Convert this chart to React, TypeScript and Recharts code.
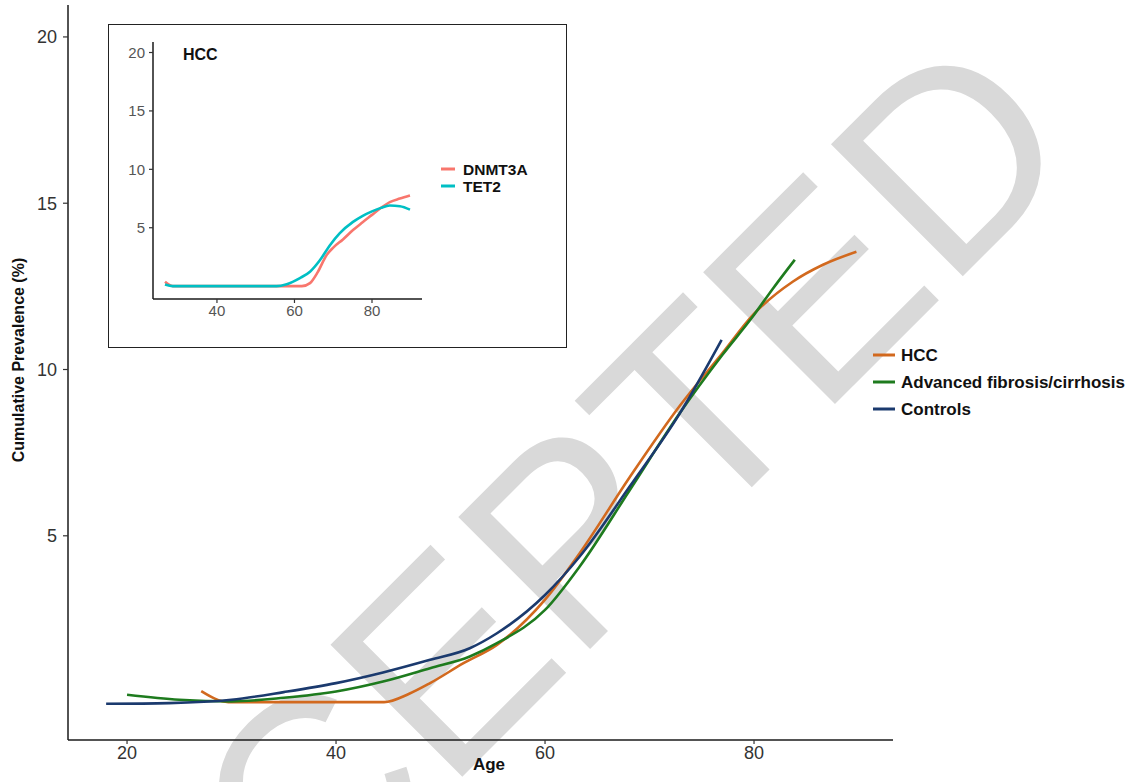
import React from 'react';
import { LineChart, Line, XAxis, YAxis } from 'recharts';

// ---------- main chart data ----------
const mainTicksX = [20, 40, 60, 80];
const mainTicksY = [5, 10, 15, 20];

const hccAge = [27.1, 29.7, 44.6, 47, 49, 52.2, 55.4, 60, 63.3, 68.1, 72.9, 77, 79.9, 83.7, 86.6, 89.8];
const hccVal = [0.33, 0, 0, 0.25, 0.57, 1.17, 1.72, 3.08, 4.47, 6.76, 8.91, 10.5, 11.64, 12.64, 13.15, 13.54];

const fibAge = [20, 25, 30, 35, 40, 44.5, 49, 52.8, 55.4, 60, 63.3, 68.1, 72.9, 77, 79.9, 81.8, 83.9];
const fibVal = [0.22, 0.07, 0.02, 0.13, 0.32, 0.62, 1.02, 1.37, 1.77, 2.77, 4.07, 6.37, 8.69, 10.45, 11.6, 12.43, 13.3];

const ctlAge = [18, 24, 30, 35, 40, 44.5, 49, 52.8, 55.4, 60, 63.3, 68.1, 72.9, 76.9];
const ctlVal = [-0.05, -0.03, 0.07, 0.3, 0.57, 0.89, 1.27, 1.62, 2.07, 3.22, 4.37, 6.48, 8.68, 10.89];

const mainNames = ['HCC', 'Advanced fibrosis/cirrhosis', 'Controls'];
const mainColors = ['#D2691E', '#1E7B1E', '#1B3A6E'];

// ---------- inset data ----------
const insetTicksX = [40, 60, 80];
const insetTicksY = [5, 10, 15, 20];

const dnmAge = [26.6, 28.6, 35, 45, 55, 61.9, 64, 66, 68.3, 70, 72.5, 75.1, 77.5, 80, 82.3, 84.6, 87.2, 89.8];
const dnmVal = [0.37, 0, 0, 0, 0, 0, 0.26, 1.2, 2.67, 3.3, 4.0, 4.8, 5.45, 6.1, 6.7, 7.2, 7.5, 7.76];

const tetAge = [26.6, 28.6, 40, 55.4, 58, 61.4, 64, 66.6, 69.2, 71.7, 75.1, 77.5, 80, 82.3, 84.6, 87.2, 89.8];
const tetVal = [0.15, 0, 0, 0, 0.17, 0.69, 1.24, 2.24, 3.53, 4.54, 5.5, 6.0, 6.4, 6.7, 6.9, 6.84, 6.55];

const insetNames = ['DNMT3A', 'TET2'];
const insetColors = ['#F8766D', '#00BFC4'];

const watermark = 'ACCEPTED';

const zip = (a: number[], v: number[]) => a.map((age, i) => ({ age, v: v[i] }));

const mainSeries = [zip(hccAge, hccVal), zip(fibAge, fibVal), zip(ctlAge, ctlVal)];
const insetSeries = [zip(dnmAge, dnmVal), zip(tetAge, tetVal)];

const FONT = '"Liberation Sans", Arial, Helvetica, sans-serif';

export default function App() {
  return (
    <div style={{ position: 'absolute', left: 0, top: 0, width: 1134, height: 782, background: '#fff', fontFamily: FONT }}>
      {/* watermark */}
      <svg width={1134} height={782} style={{ position: 'absolute', left: 0, top: 0 }}>
        <text
          x={42}
          y={1197}
          transform="rotate(-45 42 1197)"
          fontFamily={FONT}
          fontSize={271}
          fill="#d9d9d9"
        >
          {watermark}
        </text>
      </svg>

      {/* main chart */}
      <div style={{ position: 'absolute', left: 0, top: 0 }}>
        <LineChart width={1134} height={782} margin={{ top: 5, right: 241, bottom: 0, left: 0 }}>
          <XAxis
            type="number"
            dataKey="age"
            domain={[14.35, 93.3]}
            ticks={mainTicksX}
            allowDataOverflow
            height={42}
            tickSize={4}
            tickMargin={2}
            axisLine={{ stroke: '#1a1a1a', strokeWidth: 1.5 }}
            tickLine={{ stroke: '#333', strokeWidth: 1.2 }}
            tick={{ fill: '#333', fontSize: 18, fontFamily: FONT }}
            label={{
              content: () => (
                <text x={489} y={770} textAnchor="middle" fontFamily={FONT} fontSize={17} fontWeight="bold" fill="#111">
                  Age
                </text>
              ),
            }}
          />
          <YAxis
            type="number"
            domain={[-1.14, 20.96]}
            ticks={mainTicksY}
            allowDataOverflow
            width={68}
            tickSize={5}
            tickMargin={6}
            axisLine={{ stroke: '#1a1a1a', strokeWidth: 1.5 }}
            tickLine={{ stroke: '#333', strokeWidth: 1.2 }}
            tick={{ fill: '#333', fontSize: 18, fontFamily: FONT }}
            label={{
              content: () => (
                <text
                  x={18}
                  y={360}
                  transform="rotate(-90 18 360)"
                  textAnchor="middle"
                  dominantBaseline="central"
                  fontFamily={FONT}
                  fontSize={16}
                  fontWeight="bold"
                  fill="#111"
                >
                  Cumulative Prevalence (%)
                </text>
              ),
            }}
          />
          {mainSeries.map((d, i) => (
            <Line
              key={mainNames[i]}
              data={d}
              dataKey="v"
              name={mainNames[i]}
              type="monotone"
              stroke={mainColors[i]}
              strokeWidth={2.6}
              dot={false}
              activeDot={false}
              isAnimationActive={false}
            />
          ))}
        </LineChart>
      </div>

      {/* inset chart */}
      <div style={{ position: 'absolute', left: 108, top: 24, width: 459, height: 324, background: '#fff' }}>
        <LineChart width={459} height={324} margin={{ top: 18, right: 145, bottom: 0, left: 0 }}>
          <XAxis
            type="number"
            dataKey="age"
            domain={[23.5, 92.9]}
            ticks={insetTicksX}
            allowDataOverflow
            height={49}
            tickSize={4}
            tickMargin={2}
            axisLine={{ stroke: '#1a1a1a', strokeWidth: 1.5 }}
            tickLine={{ stroke: '#333', strokeWidth: 1.2 }}
            tick={{ fill: '#555', fontSize: 15, fontFamily: FONT }}
          />
          <YAxis
            type="number"
            domain={[-1.1, 20.9]}
            ticks={insetTicksY}
            allowDataOverflow
            width={45}
            tickSize={4}
            tickMargin={4}
            axisLine={{ stroke: '#1a1a1a', strokeWidth: 1.5 }}
            tickLine={{ stroke: '#333', strokeWidth: 1.2 }}
            tick={{ fill: '#555', fontSize: 15, fontFamily: FONT }}
          />
          {insetSeries.map((d, i) => (
            <Line
              key={insetNames[i]}
              data={d}
              dataKey="v"
              name={insetNames[i]}
              type="monotone"
              stroke={insetColors[i]}
              strokeWidth={2.6}
              dot={false}
              activeDot={false}
              isAnimationActive={false}
            />
          ))}
        </LineChart>
        <div
          style={{
            position: 'absolute',
            left: 0,
            top: 0,
            width: 459,
            height: 324,
            boxSizing: 'border-box',
            border: '1.6px solid #222',
            pointerEvents: 'none',
          }}
        />
      </div>

      {/* legends and inset title */}
      <svg width={1134} height={782} style={{ position: 'absolute', left: 0, top: 0, pointerEvents: 'none' }}>
        <text x={183} y={60} fontFamily={FONT} fontSize={16} fontWeight="bold" fill="#111">
          HCC
        </text>
        {insetNames.map((n, i) => (
          <g key={n}>
            <line x1={441} x2={455} y1={169 + i * 17} y2={169 + i * 17} stroke={insetColors[i]} strokeWidth={3} />
            <text x={463} y={169 + i * 17} dominantBaseline="central" fontFamily={FONT} fontSize={15.5} fontWeight="bold" fill="#111">
              {n}
            </text>
          </g>
        ))}
        {mainNames.map((n, i) => (
          <g key={n}>
            <line x1={873} x2={895} y1={355 + i * 27} y2={355 + i * 27} stroke={mainColors[i]} strokeWidth={3} />
            <text x={901} y={355 + i * 27} dominantBaseline="central" fontFamily={FONT} fontSize={17} fontWeight="bold" fill="#111">
              {n}
            </text>
          </g>
        ))}
      </svg>
    </div>
  );
}
